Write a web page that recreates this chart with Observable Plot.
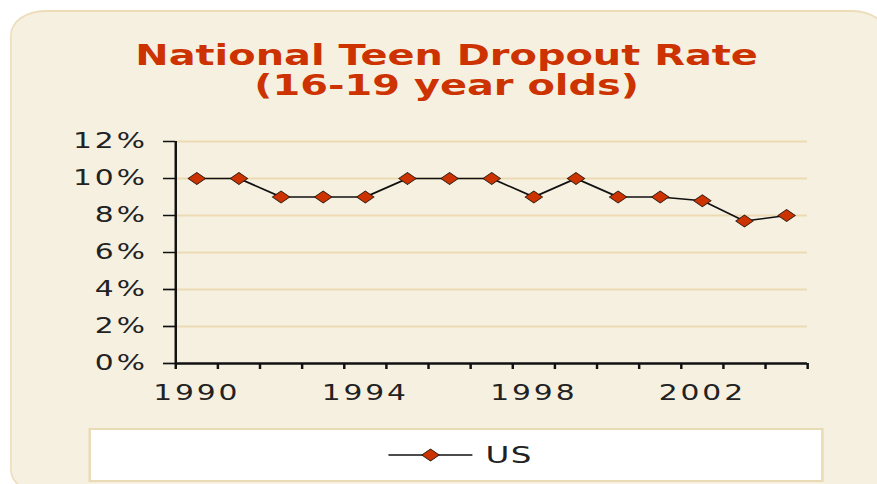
<!DOCTYPE html>
<html>
<head>
<meta charset="utf-8">
<script src="https://cdn.jsdelivr.net/npm/d3@7"></script>
<script src="https://cdn.jsdelivr.net/npm/@observablehq/plot@0.6"></script>
<style>
  html, body { margin: 0; padding: 0; background: #ffffff; overflow: hidden; }
  #wrap { position: absolute; left: 0; top: 0; width: 604.83px; height: 484px;
          transform: scaleX(1.45); transform-origin: 0 0; }
  #panel { position: absolute; left: 6.9px; top: 10px; width: 605px; height: 485px;
           box-sizing: border-box; background: #f6f0e1; border-style: solid;
           border-color: #ecdcb8; border-width: 2px 1.4px; border-radius: 24px / 25px; }
  #title { position: absolute; left: 0; width: 616px; top: 39.5px; text-align: center;
           font-family: "DejaVu Sans", Verdana, sans-serif; font-weight: bold; font-size: 27.5px;
           line-height: 30px; color: #cc3300; }
  #chart { position: absolute; left: 0; top: 120px; }
  #legend { position: absolute; left: 60.7px; top: 428px; }
</style>
</head>
<body>
<div id="wrap">
  <div id="panel"></div>
  <div id="title">National Teen Dropout Rate<br>(16-19 year olds)</div>
  <div id="chart"></div>
  <svg id="legend" width="507" height="54"></svg>
</div>
<script>
const years = [1990, 1991, 1992, 1993, 1994, 1995, 1996, 1997, 1998, 1999, 2000, 2001, 2002, 2003, 2004];
const rates = [10, 10, 9, 9, 9, 10, 10, 10, 9, 10, 9, 9, 8.8, 7.7, 8.0];
const yTicks = [0, 2, 4, 6, 8, 10, 12];
const xLabelYears = [1990, 1994, 1998, 2002];
const seriesName = "US";

const data = years.map((y, i) => ({year: y, rate: rates[i]}));
const xDomain = [years[0] - 0.5, years[years.length - 1] + 0.5];
const bounds = years.map(y => y - 0.5).concat([years[years.length - 1] + 0.5]);

const lineColor = "#111111";
const dotFill = "#cc3300";

const chart = Plot.plot({
  width: 604.83,
  height: 290,
  marginLeft: 120.7,
  marginRight: 48.3,
  marginTop: 21,
  marginBottom: 47,
  style: {background: "transparent", fontFamily: "DejaVu Sans, Verdana, sans-serif", color: "#222"},
  x: {type: "linear", domain: xDomain, label: null},
  y: {domain: [0, 12], label: null},
  marks: [
    Plot.ruleY(yTicks.filter(d => d > 0), {stroke: "#ebdab4", strokeWidth: 2}),
    Plot.axisY({ticks: yTicks, tickSize: 8.3, tickPadding: 11, tickFormat: d => d + "%", label: null,
                fontSize: 20.5, stroke: "#111", strokeWidth: 1.7, strokeOpacity: 1, fill: "#222"}),
    Plot.axisX({ticks: bounds, tickSize: 6, tickFormat: () => "", label: null, stroke: "#111", strokeWidth: 1.7, strokeOpacity: 1}),
    Plot.axisX({ticks: xLabelYears, tickSize: 0, tickPadding: 22, tickFormat: d => String(d), label: null,
                fontSize: 20.5, fill: "#222"}),
    Plot.ruleY([0], {stroke: "#111", strokeWidth: 2.5}),
    Plot.ruleX([xDomain[0]], {stroke: "#111", strokeWidth: 1.7}),
    Plot.lineY(data, {x: "year", y: "rate", stroke: lineColor, strokeWidth: 1.5}),
    Plot.dot(data, {x: "year", y: "rate", symbol: "diamond2", r: 5.4, fill: dotFill, stroke: "#2a1a10", strokeWidth: 0.7})
  ]
});
chart.querySelectorAll("text").forEach(t => t.setAttribute("letter-spacing", "2"));
document.getElementById("chart").appendChild(chart);

// Legend
const lg = d3.select("#legend");
lg.append("rect").attr("x", 0.7).attr("y", 1).attr("width", 505.6).attr("height", 52)
  .attr("fill", "#ffffff").attr("stroke", "#eadbb7").attr("stroke-width", 2);
lg.append("line").attr("x1", 206.9).attr("x2", 264.8).attr("y1", 27).attr("y2", 27)
  .attr("stroke", lineColor).attr("stroke-width", 1.5);
lg.append("path").attr("d", d3.symbol(d3.symbolDiamond2, Math.PI * 5.4 * 5.4)())
  .attr("transform", "translate(235.9,27)").attr("fill", dotFill).attr("stroke", "#2a1a10").attr("stroke-width", 0.7);
lg.append("text").attr("x", 273.8).attr("y", 35).text(seriesName)
  .attr("font-family", "DejaVu Sans, Verdana, sans-serif").attr("font-size", 22.5)
  .attr("letter-spacing", 1).attr("fill", "#222");
</script>
</body>
</html>
